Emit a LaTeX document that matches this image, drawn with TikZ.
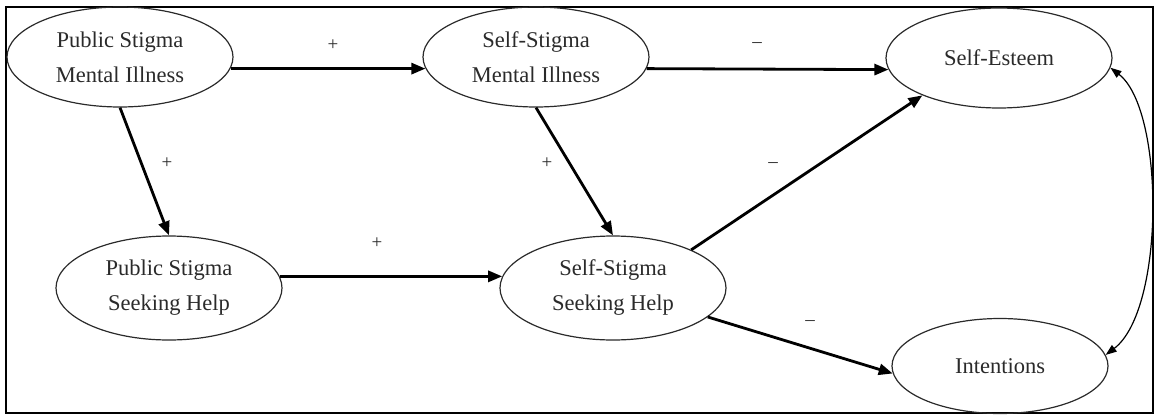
\documentclass[tikz,border=0pt]{standalone}
\usepackage{fontspec}
\setmainfont{Liberation Serif}
\usetikzlibrary{shapes.geometric,arrows.meta}
\definecolor{ink}{HTML}{2A2A2A}
\tikzset{
  construct/.style={ellipse,draw=ink,line width=1.2pt,inner sep=0pt,
    minimum width=226pt,minimum height=100pt,align=center,text=ink,
    font=\fontsize{22.5}{35}\selectfont},
  path/.style={line width=2.8pt,-{Triangle[length=14pt,width=11pt]}},
  corr/.style={line width=1.2pt,{Triangle[length=11pt,width=8pt]}-{Triangle[length=11pt,width=8pt]}},
  sign/.style={font=\fontsize{19}{19}\selectfont,text=ink,inner sep=0pt}
}
\begin{document}
\begin{tikzpicture}[x=1pt,y=-1pt]
\useasboundingbox (0,0) rectangle (1156,415);
\draw[line width=2pt] (6,7) rectangle (1153,413);

\node[construct] (psmi) at (120,57) {Public Stigma\\Mental Illness};
\node[construct] (ssmi) at (536,57) {Self-Stigma\\Mental Illness};
\node[construct] (se) at (999,58) {Self-Esteem};
\node[construct,minimum height=104pt] (pssh) at (169,288) {Public Stigma\\Seeking Help};
\node[construct,minimum height=104pt] (sssh) at (613,288) {Self-Stigma\\Seeking Help};
\node[construct,minimum width=216pt,minimum height=95pt] (int) at (1000,366) {Intentions};

\draw[path] (psmi.-6) -- (ssmi.-174);
\draw[path] (ssmi.-6) -- (se.-174.5);
\draw[path] (psmi.south) -- (pssh.north);
\draw[path] (ssmi.south) -- (sssh.north);
\draw[path] (pssh.6) -- (sssh.174);
\draw[path] (sssh.26) -- (se.-154);
\draw[path] (sssh.-17) -- (int.184);
\draw[corr] (se.-5) .. controls (1165,110) and (1165,310) .. (int.6);

\node[sign] (l1) at (333,45) {+};
\node[sign] (l2) at (757,45) {–};
\node[sign] (l3) at (167,163) {+};
\node[sign] (l4) at (547,163) {+};
\node[sign] (l5) at (377,243) {+};
\node[sign] (l6) at (773,165) {–};
\node[sign] (l7) at (810,323) {–};
\end{tikzpicture}
\end{document}
